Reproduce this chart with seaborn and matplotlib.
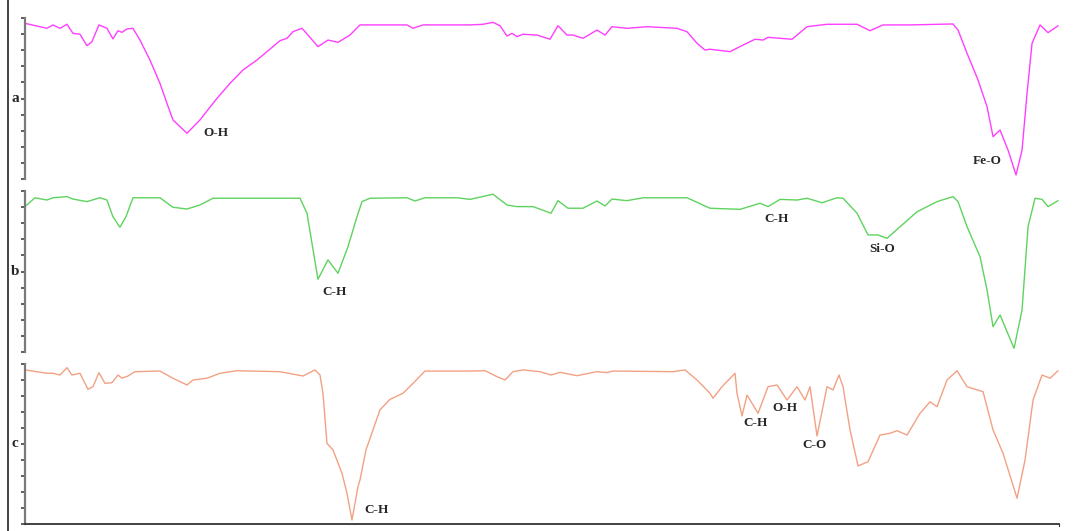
import matplotlib
matplotlib.use("Agg")
import matplotlib.pyplot as plt
from matplotlib.lines import Line2D
import seaborn as sns
import pandas as pd

# spectra: x = position along the (unlabelled) wavenumber axis, y = transmittance (%)
x_a = [0, 22, 28, 35, 42, 48, 55, 62, 67, 74, 82, 88, 93, 97, 102, 108, 115, 125, 135, 142,
       148, 162, 175, 192, 205, 218, 232, 242, 255, 262, 268, 277, 283, 293, 303, 313, 325, 335,
       382, 388, 398, 445, 458, 468, 475, 482, 487, 492, 498, 512, 525, 533, 542, 548, 558, 572,
       580, 587, 602, 622, 652, 662, 672, 680, 685, 705, 718, 730, 738, 743, 767, 782, 802, 832,
       845, 858, 885, 928, 933, 942, 953, 962, 968, 975, 983, 991, 997, 1002, 1007, 1015, 1023, 1033]
t_a = [96.7, 93.6, 95.7, 93.6, 96.1, 90.5, 89.9, 82.8, 85.3, 95.7, 93.6, 87.0, 92.1, 91.1, 93.2,
       93.6, 86.3, 73.9, 59.4, 47.0, 36.7, 28.4, 36.7, 50.1, 59.4, 67.7, 73.9, 79.1, 85.9, 87.4,
       91.5, 93.6, 89.4, 82.2, 86.3, 84.9, 89.4, 95.7, 95.7, 93.6, 95.7, 95.7, 96.1, 97.3, 95.2,
       88.8, 90.5, 88.4, 89.9, 89.4, 86.8, 95.2, 89.4, 89.4, 87.4, 92.5, 89.4, 94.6, 93.6, 94.6,
       93.6, 91.5, 84.3, 80.1, 80.6, 79.1, 83.2, 86.8, 86.3, 88.0, 86.8, 94.6, 96.1, 96.1, 92.1,
       95.7, 95.7, 96.3, 92.5, 78.1, 61.5, 44.9, 26.3, 30.4, 18.0, 2.5, 18.0, 53.2, 84.3, 95.7,
       90.9, 95.2]

x_b = [0, 10, 22, 28, 42, 48, 62, 75, 82, 88, 95, 101, 108, 135, 148, 162, 175, 188, 228, 275,
       282, 287, 293, 303, 313, 323, 332, 337, 345, 382, 390, 400, 432, 445, 468, 482, 492, 508,
       526, 533, 543, 558, 572, 580, 587, 602, 618, 662, 685, 715, 735, 743, 755, 772, 782, 797,
       812, 818, 832, 843, 853, 862, 875, 892, 912, 928, 933, 942, 955, 962, 968, 975, 982, 989,
       997, 1003, 1010, 1017, 1023, 1033]
t_b = [90.3, 95.8, 94.4, 95.8, 96.5, 95.0, 93.4, 95.8, 94.4, 84.0, 77.5, 84.0, 95.8, 95.8, 89.9,
       88.8, 91.3, 95.5, 95.5, 95.5, 86.2, 67.5, 45.2, 57.2, 48.9, 65.4, 84.0, 93.4, 95.5, 95.8,
       93.8, 95.8, 95.8, 94.8, 98.0, 91.3, 90.3, 90.3, 86.2, 94.0, 89.3, 89.3, 93.8, 90.7, 95.0,
       94.0, 95.8, 95.8, 89.3, 88.6, 92.4, 90.3, 94.8, 94.4, 95.5, 92.7, 95.8, 95.5, 86.2, 72.7,
       72.7, 70.6, 77.8, 87.1, 93.4, 96.5, 93.4, 77.8, 59.2, 38.5, 15.7, 23.0, 12.6, 2.3, 26.1,
       77.8, 95.5, 94.8, 90.3, 94.0]

x_c = [0, 22, 28, 35, 42, 47, 55, 63, 68, 74, 80, 87, 93, 97, 103, 110, 135, 148, 162, 168, 182,
       195, 212, 255, 278, 290, 295, 298, 302, 308, 317, 322, 327, 333, 335, 341, 355, 365, 378,
       388, 400, 445, 460, 472, 480, 488, 498, 515, 526, 535, 552, 572, 582, 588, 648, 660, 672,
       685, 688, 697, 710, 712, 717, 722, 733, 743, 752, 762, 772, 780, 785, 792, 802, 808, 814,
       818, 825, 833, 843, 855, 865, 872, 882, 895, 905, 912, 922, 932, 942, 958, 968, 978, 992,
       1000, 1008, 1017, 1025, 1033]
t_c = [96.3, 94.2, 94.2, 93.1, 97.7, 93.1, 94.2, 84.2, 85.8, 94.6, 87.9, 88.3, 93.1, 91.1, 92.5,
       95.2, 95.6, 91.1, 86.9, 90.0, 91.1, 94.2, 95.8, 95.2, 92.5, 96.3, 93.1, 81.7, 50.4, 46.3,
       31.7, 19.2, 2.5, 23.3, 27.5, 46.3, 71.3, 77.9, 81.7, 87.9, 95.6, 95.6, 95.8, 92.1, 90.0,
       95.2, 96.3, 95.2, 93.1, 94.8, 92.7, 95.2, 94.6, 95.6, 95.2, 96.3, 90.0, 81.7, 78.6, 85.8,
       94.2, 81.7, 67.5, 80.6, 69.2, 85.8, 86.9, 77.5, 85.8, 77.5, 85.8, 55.0, 85.8, 83.8, 93.1,
       85.8, 58.8, 36.3, 38.9, 55.6, 56.7, 58.3, 55.6, 69.2, 76.4, 73.3, 90.0, 95.8, 85.8, 82.7,
       58.8, 44.2, 16.1, 40.0, 77.5, 93.1, 91.1, 95.8]

panel_names = ["a", "b", "c"]
colors = ["#FF3FFF", "#5ED35E", "#F2A184"]

# band assignments: (panel, label, x, y)
bands = [
    (0, "O-H", 191, 28.6),
    (0, "Fe-O", 962, 11.2),
    (1, "C-H", 310, 37.5),
    (1, "C-H", 752, 82.6),
    (1, "Si-O", 857, 64.0),
    (2, "C-H", 352, 8.7),
    (2, "C-H", 731, 63.1),
    (2, "O-H", 760, 72.5),
    (2, "C-O", 789, 49.4),
]

spectra = [pd.DataFrame({"x": x_a, "T": t_a}),
           pd.DataFrame({"x": x_b, "T": t_b}),
           pd.DataFrame({"x": x_c, "T": t_c})]

sns.set_style("white")
plt.rcParams["font.family"] = ["Liberation Serif", "DejaVu Serif"]

fig = plt.figure(figsize=(10.8, 5.31), dpi=100)
boxes = [(0.0231, 0.6629, 0.9575, 0.3032),
         (0.0231, 0.3371, 0.9575, 0.3032),
         (0.0231, 0.0132, 0.9575, 0.3013)]

axes = []
for i, df in enumerate(spectra):
    ax = fig.add_axes(boxes[i])
    sns.lineplot(data=df, x="x", y="T", ax=ax, color=colors[i], linewidth=1.0,
                 estimator=None, sort=False)
    ax.set_xlim(0, 1034)
    ax.set_ylim(0, 100)
    ax.set_yticks(range(0, 101, 10))
    ax.set_yticklabels([])
    ax.set_xticks([])
    ax.set_xlabel("")
    ax.set_ylabel("")
    for s in ["top", "right", "bottom"]:
        ax.spines[s].set_visible(False)
    ax.spines["left"].set_color("#7a7a7a")
    ax.spines["left"].set_linewidth(1.6)
    ax.tick_params(axis="y", left=True, direction="out", length=3, width=1.1, color="#333333")
    ax.patch.set_alpha(0)
    fig.text(0.0139, boxes[i][1] + boxes[i][3] / 2, panel_names[i], fontsize=11,
             fontweight="bold", ha="center", va="center")
    axes.append(ax)

for p, lab, bx, by in bands:
    axes[p].text(bx, by, lab, fontsize=9.5, fontweight="bold", ha="center", va="center")

# bottom axis of the lowest panel
axes[2].spines["bottom"].set_visible(True)
axes[2].spines["bottom"].set_color("#333333")
axes[2].spines["bottom"].set_linewidth(1.3)
axes[2].spines["right"].set_visible(True)
axes[2].spines["right"].set_color("#333333")
axes[2].spines["right"].set_bounds(-1.5, 0)
for sp in axes[2].spines.values():
    sp.set_clip_on(False)

# outer frame line on the far left
fig.add_artist(Line2D([0.0074, 0.0074], [0, 1], transform=fig.transFigure,
                      color="#222222", linewidth=1.2))

fig.savefig("out.png", dpi=100)
